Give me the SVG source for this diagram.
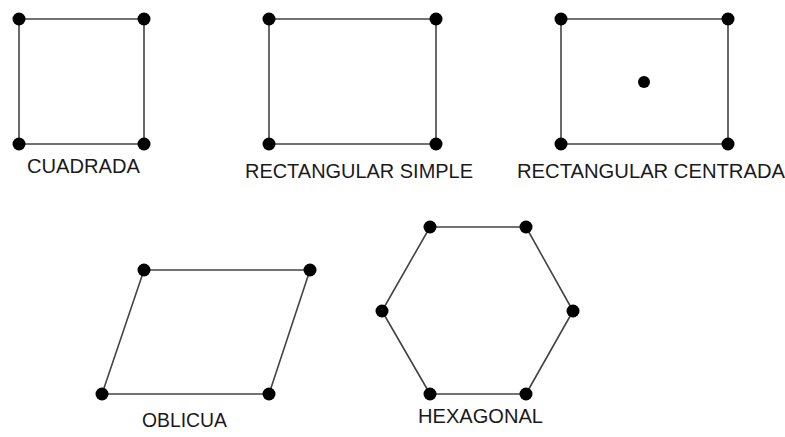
<svg xmlns="http://www.w3.org/2000/svg" width="785" height="437" viewBox="0 0 785 437">
<style>
.edge{fill:none;stroke:#444;stroke-width:1.6;stroke-linejoin:round}
.pt{fill:#000}
.lbl{font-family:"Liberation Sans",Arial,sans-serif;font-size:20px;fill:#1a1a1a}
</style>
<rect width="785" height="437" fill="#fff"/>
<g id="connectors">
<polygon class="edge" points="19,19 144,19 144,144 19,144"/>
<polygon class="edge" points="269,19 436,19 436,144 269,144"/>
<polygon class="edge" points="561,19 728,19 728,144 561,144"/>
<polygon class="edge" points="144,270 310,270 269,394 102,394"/>
<polygon class="edge" points="430,227 526,227 573,311 526,394 430,394 382,311"/>
</g>
<g id="cuadrada">
<circle class="pt" cx="19" cy="19" r="6.5"/><circle class="pt" cx="144" cy="19" r="6.5"/>
<circle class="pt" cx="19" cy="144" r="6.5"/><circle class="pt" cx="144" cy="144" r="6.5"/>
<text class="lbl" x="27" y="173" textLength="113" lengthAdjust="spacingAndGlyphs">CUADRADA</text>
</g>
<g id="rect-simple">
<circle class="pt" cx="269" cy="19" r="6.5"/><circle class="pt" cx="436" cy="19" r="6.5"/>
<circle class="pt" cx="269" cy="144" r="6.5"/><circle class="pt" cx="436" cy="144" r="6.5"/>
<text class="lbl" x="245" y="178" textLength="228" lengthAdjust="spacingAndGlyphs">RECTANGULAR SIMPLE</text>
</g>
<g id="rect-centrada">
<circle class="pt" cx="561" cy="19" r="6.5"/><circle class="pt" cx="728" cy="19" r="6.5"/>
<circle class="pt" cx="561" cy="144" r="6.5"/><circle class="pt" cx="728" cy="144" r="6.5"/>
<circle class="pt" cx="644" cy="82" r="6"/>
<text class="lbl" x="517" y="178" textLength="268" lengthAdjust="spacingAndGlyphs">RECTANGULAR CENTRADA</text>
</g>
<g id="oblicua">
<circle class="pt" cx="144" cy="270" r="6.5"/><circle class="pt" cx="310" cy="270" r="6.5"/>
<circle class="pt" cx="102" cy="394" r="6.5"/><circle class="pt" cx="269" cy="394" r="6.5"/>
<text class="lbl" x="142" y="427" textLength="85" lengthAdjust="spacingAndGlyphs">OBLICUA</text>
</g>
<g id="hexagonal">
<circle class="pt" cx="430" cy="227" r="6.5"/><circle class="pt" cx="526" cy="227" r="6.5"/>
<circle class="pt" cx="382" cy="311" r="6.5"/><circle class="pt" cx="573" cy="311" r="6.5"/>
<circle class="pt" cx="430" cy="394" r="6.5"/><circle class="pt" cx="526" cy="394" r="6.5"/>
<text class="lbl" x="418" y="423" textLength="125" lengthAdjust="spacingAndGlyphs">HEXAGONAL</text>
</g>
</svg>
